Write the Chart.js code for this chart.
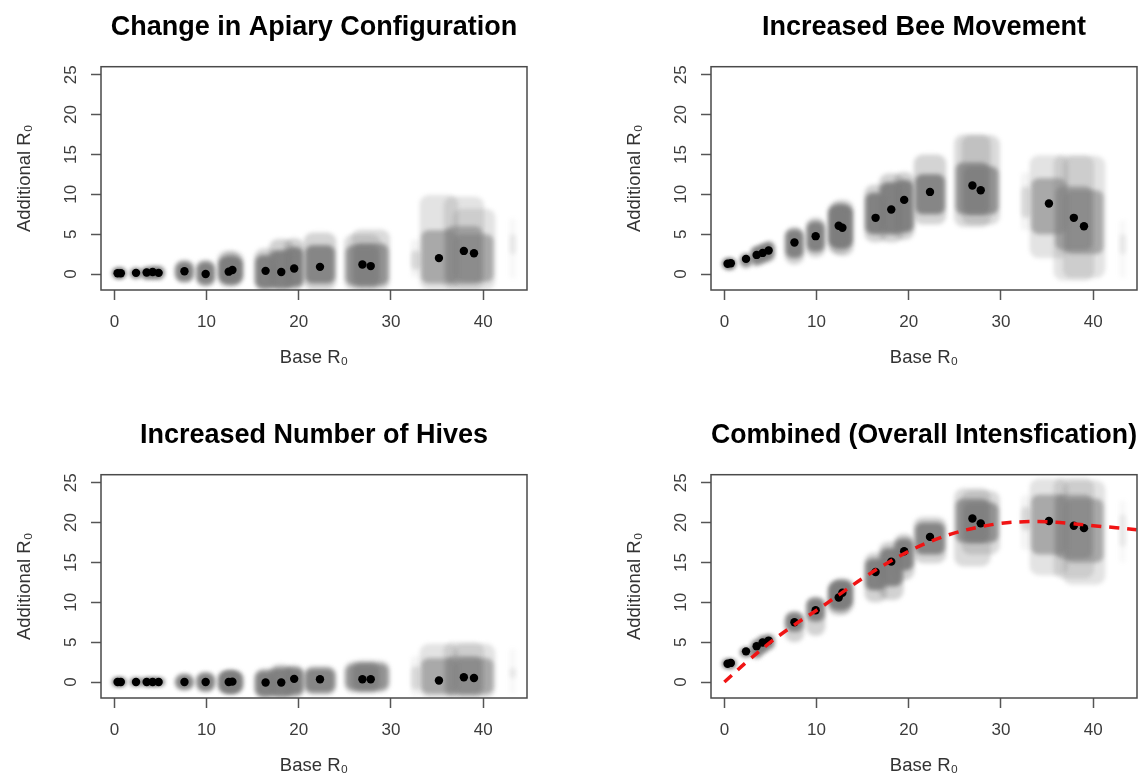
<!DOCTYPE html>
<html>
<head>
<meta charset="utf-8">
<title>Additional R0 against Base R0</title>
<script src="https://cdn.jsdelivr.net/npm/chart.js@4/dist/chart.umd.min.js"></script>
<style>
  body { margin: 0; background: #fff; }
  #wrap { position: relative; width: 1148px; height: 778px; overflow: hidden; }
  canvas { position: absolute; }
</style>
</head>
<body>
<div id="wrap">
  <canvas id="p1" width="538" height="370" style="left:0;top:0"></canvas>
  <canvas id="p2" width="538" height="370" style="left:610px;top:0"></canvas>
  <canvas id="p3" width="538" height="370" style="left:0;top:408px"></canvas>
  <canvas id="p4" width="538" height="370" style="left:610px;top:408px"></canvas>
</div>
<script>
// landscapes: mean base R0 and the half-width of each cloud along the x axis
const baseR0  = [0.35, 0.7, 2.35, 3.5, 4.15, 4.8, 7.6, 9.9, 12.4, 12.8, 16.4, 18.1, 19.5, 22.3, 26.9, 27.8, 32.7, 35.2, 37.9, 39.0, 43.2];
const xSpread = [0.55, 0.55, 0.6, 0.6, 0.6, 0.6, 0.95, 0.95, 1.1, 1.1, 1.1, 1.2, 1.0, 1.6, 1.8, 1.9, 0.5, 1.9, 2.0, 2.1, 0.35];
// relative point density of each cloud (sparser for the large R0 landscapes)
const cloudDensity = [1, 1, 1, 1, 1, 1, 1, 1, 1, 1, 1, 1, 1, 0.95, 0.8, 0.8, 0.25, 0.6, 0.6, 0.6, 0.15];

// Change in Apiary Configuration
const cfgMean    = [0.1, 0.1, 0.15, 0.2, 0.25, 0.15, 0.35, 0.0, 0.3, 0.5, 0.4, 0.25, 0.7, 0.9, 1.2, 1.0, null, 2.0, 2.9, 2.6, null];
const cfgLo      = [-0.6, -0.6, -0.6, -0.7, -0.7, -0.7, -1.1, -1.6, -1.6, -1.5, -2.0, -2.0, -2.0, -2.0, -2.0, -2.0, -0.5, -2.0, -2.0, -2.0, -0.6];
const cfgHi      = [0.8, 0.8, 0.8, 0.9, 1.0, 1.0, 1.8, 1.8, 2.9, 2.8, 3.2, 4.4, 4.5, 5.2, 5.0, 5.6, 4.4, 9.9, 9.7, 8.2, 7.0];
const cfgCoreLo  = [-0.5, -0.5, -0.5, -0.6, -0.6, -0.6, -0.9, -1.3, -1.1, -1.1, -1.8, -1.8, -1.6, -1.2, -1.4, -1.4, 0.5, -1.2, -1.2, -1.0, 2.5];
const cfgCoreHi  = [0.7, 0.7, 0.7, 0.8, 0.9, 0.9, 1.5, 1.5, 2.1, 2.1, 2.4, 3.0, 3.4, 3.6, 3.6, 3.8, 3.0, 5.5, 6.0, 5.0, 5.0];

// Increased Bee Movement
const moveMean   = [1.3, 1.35, 1.9, 2.4, 2.65, 2.95, 3.95, 4.75, 6.05, 5.8, 7.05, 8.1, 9.3, 10.3, 11.1, 10.5, null, 8.85, 7.05, 6.0, null];
const moveLo     = [0.5, 0.5, 0.7, 0.9, 1.2, 1.5, 1.2, 2.1, 2.6, 2.3, 4.0, 4.0, 4.3, 6.2, 5.9, 6.2, 5.4, 2.0, -0.8, -0.5, -0.5];
const moveHi     = [2.0, 2.0, 2.6, 3.5, 3.8, 4.1, 5.9, 7.1, 9.0, 9.3, 11.2, 12.6, 12.8, 15.0, 17.5, 17.4, 12.8, 14.9, 14.9, 14.8, 6.8];
const moveCoreLo = [0.7, 0.7, 1.0, 1.2, 1.5, 1.8, 2.0, 2.8, 3.4, 3.3, 5.0, 5.0, 5.2, 7.5, 7.5, 7.5, 7.0, 5.0, 3.0, 2.5, 2.5];
const moveCoreHi = [1.9, 1.9, 2.5, 3.4, 3.7, 4.0, 5.6, 6.6, 8.5, 8.6, 10.2, 11.5, 11.8, 12.5, 14.0, 13.5, 11.0, 12.0, 11.0, 10.5, 5.0];

// Increased Number of Hives
const hiveMean   = [0.0, 0.0, 0.0, 0.0, 0.0, 0.0, 0.0, 0.0, 0.0, 0.05, -0.05, -0.05, 0.4, 0.35, 0.35, 0.35, null, 0.2, 0.6, 0.5, null];
const hiveLo     = [-0.5, -0.5, -0.5, -0.5, -0.5, -0.5, -1.0, -1.25, -1.5, -1.5, -2.0, -2.0, -2.0, -1.6, -1.4, -1.3, -1.8, -2.0, -2.0, -2.0, -1.5];
const hiveHi     = [0.5, 0.5, 0.5, 0.5, 0.5, 0.5, 1.05, 1.25, 1.5, 1.5, 1.7, 2.2, 2.1, 2.0, 2.6, 2.7, 3.3, 4.8, 5.0, 4.8, 4.2];
const hiveCoreLo = [-0.5, -0.5, -0.5, -0.5, -0.5, -0.5, -0.9, -1.1, -1.3, -1.3, -1.8, -1.8, -1.6, -1.3, -1.0, -1.0, -1.0, -1.5, -1.5, -1.5, 0.5];
const hiveCoreHi = [0.5, 0.5, 0.5, 0.5, 0.5, 0.5, 0.9, 1.1, 1.3, 1.3, 1.4, 1.8, 1.8, 1.7, 2.2, 2.3, 2.0, 3.0, 3.2, 3.0, 1.8];

// Combined (Overall Intensification)
const combMean   = [2.3, 2.4, 3.85, 4.5, 4.95, 5.2, 7.5, 9.0, 10.6, 11.2, 13.8, 15.1, 16.4, 18.2, 20.5, 19.9, null, 20.2, 19.6, 19.3, null];
const combLo     = [1.7, 1.7, 3.1, 2.9, 3.5, 4.0, 5.0, 5.8, 8.4, 8.6, 10.0, 10.3, 12.8, 14.9, 14.5, 16.0, 16.5, 13.4, 13.0, 12.2, 15.0];
const combHi     = [2.9, 2.9, 4.4, 5.3, 5.8, 6.0, 8.9, 10.7, 12.8, 13.0, 16.2, 17.6, 18.6, 20.7, 24.3, 24.0, 23.5, 25.5, 25.6, 25.3, 22.8];
const combCoreLo = [1.8, 1.8, 3.2, 3.1, 3.7, 4.2, 6.3, 7.6, 9.1, 9.3, 11.5, 12.0, 14.0, 16.0, 17.5, 17.5, 19.0, 16.0, 15.5, 15.0, 17.0];
const combCoreHi = [2.8, 2.8, 4.3, 5.2, 5.7, 5.9, 8.7, 10.5, 12.4, 12.7, 15.5, 16.8, 18.0, 20.0, 23.0, 22.5, 22.0, 23.5, 23.5, 23.0, 21.0];

// fitted curve (red dashed)
const fitX = [0, 2.5, 5, 7.5, 10, 12.5, 15, 17.5, 20, 22.5, 25, 27.5, 30, 32.5, 35, 37.5, 40, 42.5, 44.7];
const fitY = [0, 2.6, 5.0, 7.1, 9.0, 11.0, 13.0, 14.8, 16.4, 17.7, 18.7, 19.4, 19.9, 20.1, 20.1, 19.9, 19.6, 19.35, 19.1];

const FONT = "'Liberation Sans', Arial, Helvetica, sans-serif";

function shade(a) {
  return 'rgba(125,125,125,' + a.toFixed(3) + ')';
}

function cloudSets(lo, hi, coreLo, coreHi) {
  const sets = [];
  baseR0.forEach((x, i) => {
    // bar width follows the cloud's spread in base R0, through the x scale
    const width = half => ctx => {
      const s = ctx.chart.scales.x;
      return s.getPixelForValue(x + half) - s.getPixelForValue(x - half);
    };
    const d = cloudDensity[i];
    sets.push({
      type: 'bar', data: [{x: x, y: [lo[i], hi[i]]}],
      barThickness: width(xSpread[i] * 1.1), grouped: false,
      backgroundColor: shade(0.35 * d), borderWidth: 0, inflateAmount: 0,
      borderRadius: 9, borderSkipped: false, order: 3
    });
    sets.push({
      type: 'bar', data: [{x: x, y: [coreLo[i], coreHi[i]]}],
      barThickness: width(xSpread[i]), grouped: false,
      backgroundColor: shade(0.95 * d), borderWidth: 0, inflateAmount: 0,
      borderRadius: 7, borderSkipped: false, order: 2
    });
  });
  return sets;
}

function meanSet(means) {
  const pts = [];
  baseR0.forEach((x, i) => { if (means[i] !== null) pts.push({x: x, y: means[i]}); });
  return {
    type: 'scatter', data: pts, pointRadius: 4.2, pointBackgroundColor: '#000',
    pointBorderWidth: 0, order: 1
  };
}

// soft edges for the point clouds
const softClouds = {
  id: 'softClouds',
  beforeDatasetDraw(chart, args) {
    if (args.meta.type === 'bar') {
      chart.ctx.save();
      chart.ctx.filter = 'blur(2px)';
    }
  },
  afterDatasetDraw(chart, args) {
    if (args.meta.type === 'bar') chart.ctx.restore();
  }
};

const frame = {
  id: 'frame',
  afterDatasetsDraw(chart) {
    const {ctx, chartArea: a} = chart;
    ctx.save();
    ctx.strokeStyle = '#4a4a4a';
    ctx.lineWidth = 1.5;
    ctx.strokeRect(a.left, a.top, a.right - a.left, a.bottom - a.top);
    ctx.restore();
  }
};

function makePanel(id, title, datasets) {
  new Chart(document.getElementById(id), {
    type: 'scatter',
    data: {datasets: datasets},
    plugins: [softClouds, frame],
    options: {
      responsive: false,
      animation: false,
      events: [],
      layout: {padding: {left: 10, right: 11, top: 0, bottom: 0}},
      plugins: {
        legend: {display: false},
        tooltip: {enabled: false},
        title: {
          display: true, text: title, fullSize: false, color: '#000',
          font: {family: FONT, size: 27, weight: 'bold'},
          padding: {top: 11.8, bottom: 22.5}
        }
      },
      scales: {
        x: {
          type: 'linear', min: -1.45, max: 44.75, offset: false,
          afterFit: s => { s.height = 80; },
          ticks: {
            stepSize: 10, includeBounds: false, autoSkip: false, maxRotation: 0,
            color: '#3c3c3c', font: {family: FONT, size: 17}, padding: 12
          },
          grid: {
            offset: false, drawOnChartArea: false, drawTicks: true,
            tickLength: 10, tickColor: '#555', tickWidth: 1.5
          },
          border: {display: false},
          title: {
            display: true, text: 'Base R\u2080', color: '#333',
            font: {family: FONT, size: 18.5}, padding: {top: 0, bottom: 1}
          }
        },
        y: {
          type: 'linear', min: -2, max: 26, beginAtZero: false,
          afterFit: s => { s.width = 91; },
          ticks: {
            stepSize: 5, includeBounds: false, minRotation: 90, maxRotation: 90,
            crossAlign: 'center', color: '#3c3c3c', font: {family: FONT, size: 17}, padding: 10
          },
          grid: {
            offset: false, drawOnChartArea: false, drawTicks: true,
            tickLength: 10, tickColor: '#555', tickWidth: 1.5
          },
          border: {display: false},
          title: {
            display: true, text: 'Additional R\u2080', color: '#333',
            font: {family: FONT, size: 18.5}, padding: {top: 3.9, bottom: 0}
          }
        }
      }
    }
  });
}

makePanel('p1', 'Change in Apiary Configuration',
  cloudSets(cfgLo, cfgHi, cfgCoreLo, cfgCoreHi).concat([meanSet(cfgMean)]));
makePanel('p2', 'Increased Bee Movement',
  cloudSets(moveLo, moveHi, moveCoreLo, moveCoreHi).concat([meanSet(moveMean)]));
makePanel('p3', 'Increased Number of Hives',
  cloudSets(hiveLo, hiveHi, hiveCoreLo, hiveCoreHi).concat([meanSet(hiveMean)]));
makePanel('p4', 'Combined (Overall Intensfication)',
  cloudSets(combLo, combHi, combCoreLo, combCoreHi).concat([
    meanSet(combMean),
    {
      type: 'line', data: fitX.map((x, i) => ({x: x, y: fitY[i]})),
      borderColor: '#f01414', borderWidth: 3.5, borderDash: [10, 8],
      pointRadius: 0, tension: 0.4, fill: false, order: 0
    }
  ]));
</script>
</body>
</html>
